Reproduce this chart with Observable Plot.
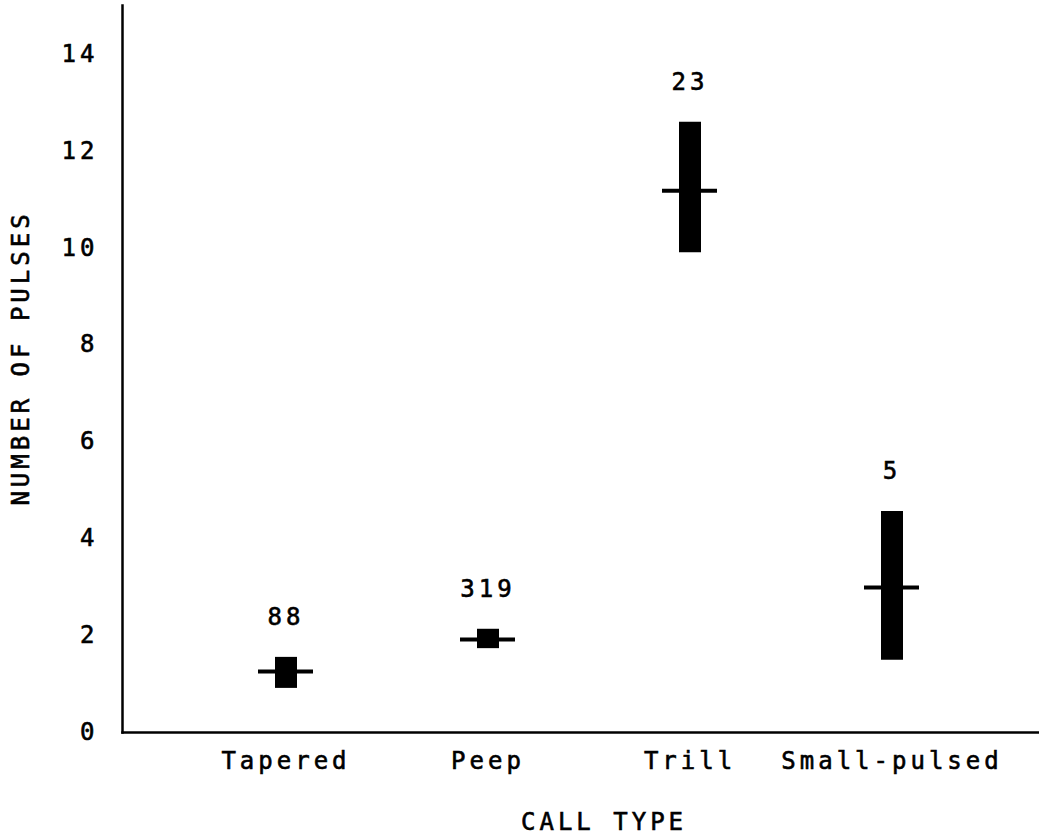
<!DOCTYPE html>
<html>
<head>
<meta charset="utf-8">
<script src="https://cdn.jsdelivr.net/npm/d3@7"></script>
<script src="https://cdn.jsdelivr.net/npm/@observablehq/plot@0.6"></script>
<style>
  body { margin: 0; background: #fff; }
  #chart svg { display: block; }
  /* heavier, plotter-like lettering */
  #chart svg text { stroke: #000; stroke-width: 0.6px; }
</style>
</head>
<body>
<div id="chart"></div>
<script>
// Number of pulses per call, by call type: range (min–max), mean, and sample size
const callTypes = ["Tapered", "Peep", "Trill", "Small-pulsed"];
const pulseMin  = [0.91, 1.73, 9.90, 1.49];
const pulseMax  = [1.55, 2.13, 12.59, 4.56];
const pulseMean = [1.26, 1.92, 11.18, 2.99];
const sampleSize = [88, 319, 23, 5];
const yTicks = [0, 2, 4, 6, 8, 10, 12, 14];

const rows = callTypes.map((type, i) => ({
  type,
  min: pulseMin[i],
  max: pulseMax[i],
  mean: pulseMean[i],
  n: sampleSize[i]
}));

const font = "'DejaVu Sans Mono', monospace";
const fs = 24;
const W = 1039, H = 837, ML = 122;

const chart = Plot.plot({
  width: W,
  height: H,
  marginTop: 5,
  marginLeft: ML,
  marginRight: 0,
  marginBottom: 105,
  style: { fontFamily: font, fontSize: fs + "px", color: "#000", background: "#fff", letterSpacing: "4px" },
  x: { type: "band", domain: callTypes, padding: 0.53, range: [ML + 8, W + 8], label: null },
  y: { domain: [0, 15], label: null },
  marks: [
    Plot.frame({ anchor: "left", strokeWidth: 2.5 }),
    Plot.frame({ anchor: "bottom", strokeWidth: 2.5 }),
    Plot.axisY({ ticks: yTicks, tickSize: 0, tickPadding: 24, fontSize: fs, label: null }),
    Plot.axisX({ tickSize: 0, tickPadding: 19, fontSize: fs, label: null }),
    // range bars
    Plot.ruleX(rows, { x: "type", y1: "min", y2: "max", strokeWidth: 22, stroke: "#000" }),
    // mean marks
    Plot.tickY(rows, { x: "type", y: "mean", strokeWidth: 4, insetLeft: 20, insetRight: 20, stroke: "#000" }),
    // sample sizes
    Plot.text(rows, { x: "type", y: "max", text: "n", dy: -40, fontSize: fs }),
    Plot.text(["NUMBER OF PULSES"], {
      text: d => d, frameAnchor: "left", textAnchor: "middle", lineAnchor: "middle",
      rotate: -90, dx: -101, dy: -11, fontSize: fs
    }),
    Plot.text(["CALL TYPE"], {
      text: d => d, frameAnchor: "bottom", textAnchor: "middle", lineAnchor: "middle",
      dx: 23, dy: 90, fontSize: fs
    })
  ]
});

document.getElementById("chart").append(chart);
</script>
</body>
</html>
